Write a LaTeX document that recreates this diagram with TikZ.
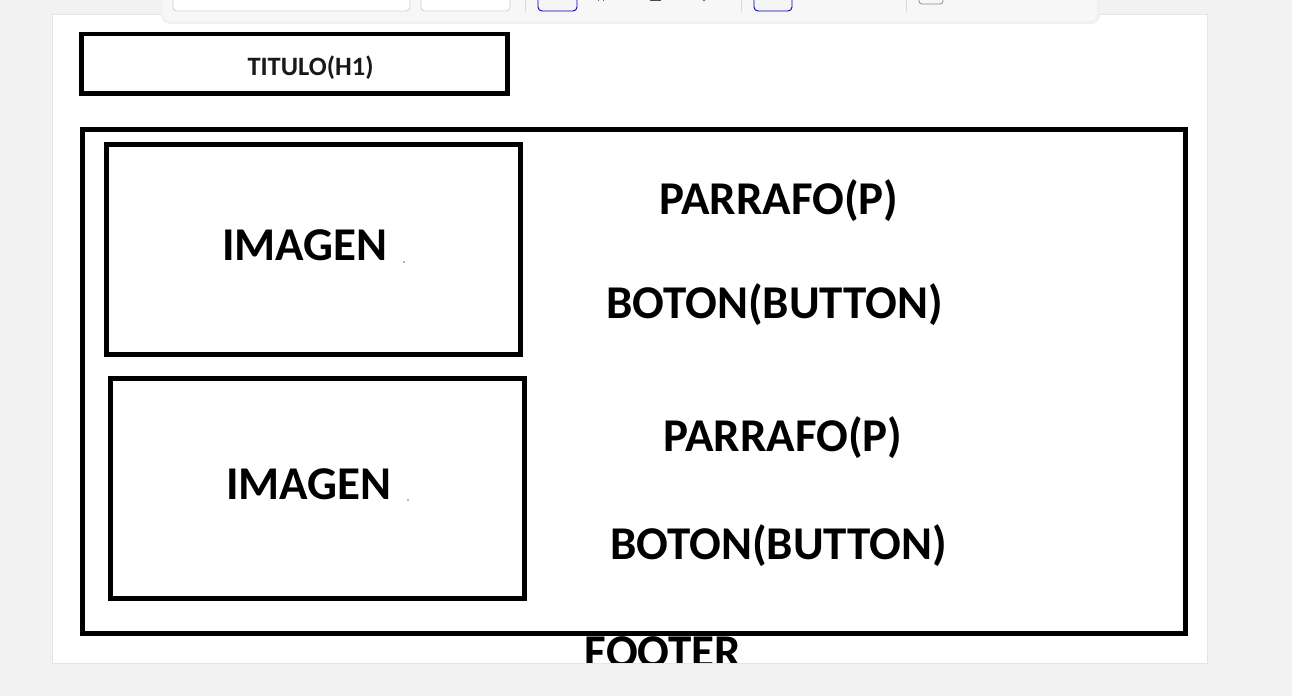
\documentclass[tikz,border=0pt]{standalone}
\usepackage{fontspec}
\setmainfont{Carlito}
\begin{document}
\begin{tikzpicture}[x=1pt,y=-1pt,
  box/.style={draw=black,line width=4.5pt,line join=miter,fill=white,inner sep=0pt,outer sep=0pt},
  big/.style={font=\fontsize{47}{50}\selectfont\bfseries,inner sep=0pt,anchor=base,text=black},
  small/.style={font=\fontsize{26.5}{30}\selectfont\bfseries,inner sep=0pt,anchor=base,text=black!90},
  tbox/.style={draw=black!18,line width=0.8pt,rounded corners=4pt,fill=white}]
\definecolor{bgc}{HTML}{F2F2F2}
\useasboundingbox (0,0) rectangle (1292,696);
\fill[bgc] (0,0) rectangle (1292,696);
% canvas
\fill[white,draw=black!10,line width=1pt] (52,14) rectangle (1207,663);
% toolbar
\fill[black!6,rounded corners=9pt] (161,-20) rectangle (1100,24);
\fill[white!97!black,rounded corners=8pt] (163,-20) rectangle (1097,21.5);
\draw[tbox] (173,-10) rectangle (410,11);
\draw[tbox] (421,-10) rectangle (510,11);
\draw[black!15,line width=0.8pt] (525,-5) -- (525,12);
\draw[draw=blue!70!black,line width=0.9pt,rounded corners=4pt,fill=black!4] (538,-10) rectangle (577,11);
\draw[black!60,line width=1pt] (598,-3) -- (598,1) (603,-3) -- (603,1);
\draw[black!70,line width=1.2pt] (650,0.5) -- (661,0.5);
\fill[black!60] (704,0) circle (1.3);
\draw[black!15,line width=0.8pt] (741,-5) -- (741,12);
\draw[draw=blue!70!black,line width=0.9pt,rounded corners=4pt,fill=black!4] (754,-10) rectangle (792,11);
\draw[black!15,line width=0.8pt] (906,-5) -- (906,12);
\draw[black!45,line width=0.8pt,rounded corners=3pt] (919,-10) rectangle (943,4);
% boxes
\node[box,minimum width=426pt,minimum height=59.5pt] (titlebox) at (294.5,63.75) {};
\node[small] (titulo) at (310.5,75) {TITULO(H1)};
\node[box,minimum width=1103pt,minimum height=504pt] (main) at (634,381.5) {};
\node[box,minimum width=414pt,minimum height=210pt] (img1) at (313.5,249.5) {};
\node[box,minimum width=414pt,minimum height=220pt] (img2) at (317.5,488.5) {};
\node[big] (imagen1) at (305,260) {IMAGEN};
\node[big] (imagen2) at (309,499) {IMAGEN};
\fill[black!60] (404,262) circle (0.8);
\fill[black!60] (408,500) circle (0.8);
\node[big] (p1) at (779,214) {PARRAFO(P)};
\node[big] (b1) at (774.5,318) {BOTON(BUTTON)};
\node[big] (p2) at (783,451) {PARRAFO(P)};
\node[big] (b2) at (778.5,559) {BOTON(BUTTON)};
\begin{scope}
\clip (52,14) rectangle (1207,662.5);
\node[big] (footer) at (663,667) {FOOTER};
\end{scope}
\end{tikzpicture}
\end{document}
